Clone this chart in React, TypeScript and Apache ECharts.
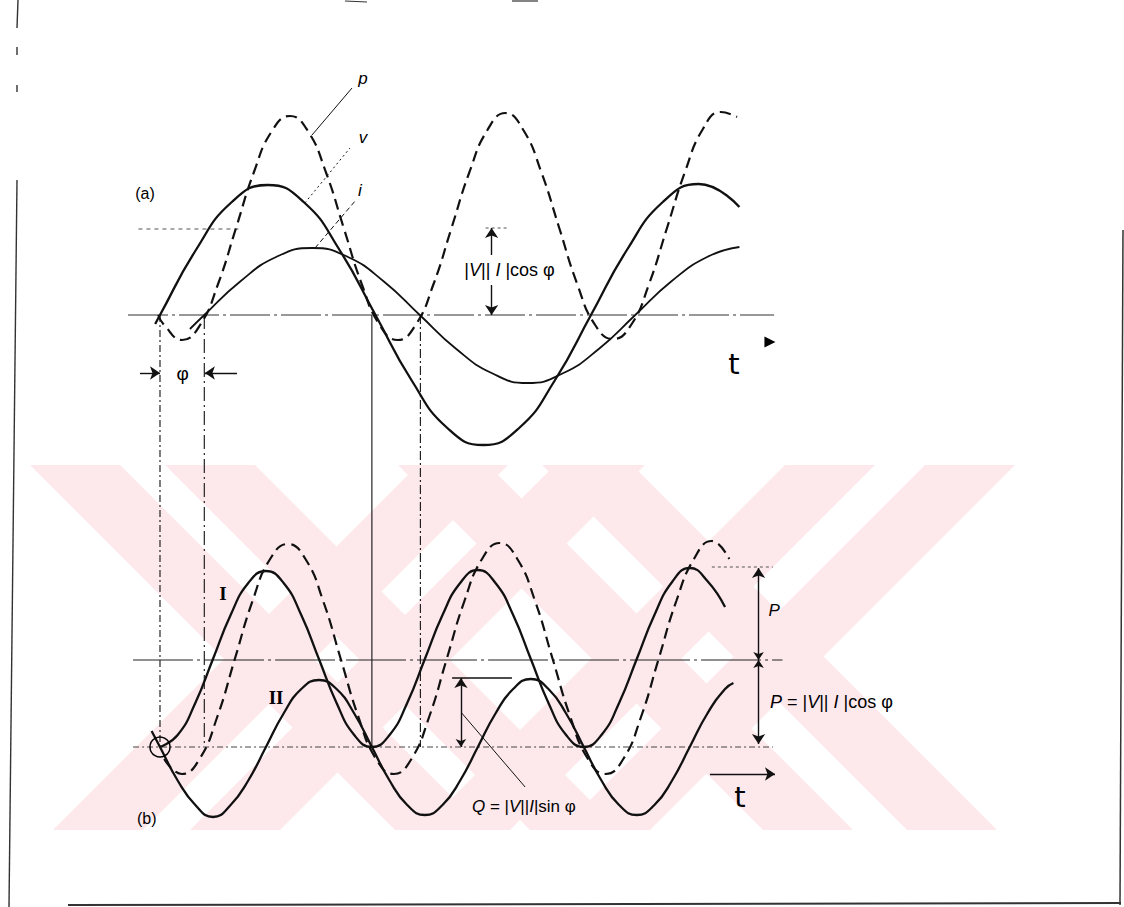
import React, { useEffect, useRef } from "react";
import * as echarts from "echarts";

// x: ωt in degrees; y: amplitude (same scale in both panels)
// ---------- Panel (a) ----------
const V_WAVE = [[-4,-0.09],[0,0],[30,0.65],[60,1.13],[90,1.3],[120,1.13],[150,0.65],[180,0],[210,-0.65],[240,-1.13],[270,-1.3],[300,-1.13],[330,-0.65],[360,0],[390,0.65],[420,1.13],[450,1.31],[484,1.08]];
const I_WAVE = [[25,-0.14],[37,0],[67,0.335],[97,0.58],[127,0.67],[157,0.58],[187,0.335],[217,0],[247,-0.335],[277,-0.58],[307,-0.68],[337,-0.58],[367,-0.335],[397,0],[427,0.335],[457,0.58],[484,0.68]];
const P_WAVE_A = [[-1.5,0],[3.5,-0.1],[18.5,-0.25],[33.5,-0.1],[48.5,0.31],[63.5,0.87],[78.5,1.43],[93.5,1.84],[108.5,1.99],[123.5,1.84],[138.5,1.43],[153.5,0.87],[168.5,0.31],[183.5,-0.1],[198.5,-0.25],[213.5,-0.1],[228.5,0.31],[243.5,0.87],[258.5,1.43],[273.5,1.85],[288.5,2.02],[303.5,1.85],[318.5,1.43],[333.5,0.87],[348.5,0.31],[363.5,-0.1],[378.5,-0.24],[393.5,-0.1],[408.5,0.31],[423.5,0.87],[438.5,1.43],[453.5,1.86],[468.5,2.03],[482,1.98]];
const A_ZERO_LINE = [[-26.7,0],[513,0]];
const A_MEAN_LINE = [[-18,0.86],[67,0.86]];
const A_MEAN_TICK = [[272,0.87],[292,0.87]];
const GUIDE_X = [0, 37, 177, 217.5];
const GUIDE_BOTTOM = -4.32; // base line of panel (b), in panel (a) units
const A_COS_ARROWS = [[[277,0.6],[277,0.87]],[[277,0.3],[277,0]]];
const A_PHI_ARROWS = [[[-16.7,-0.58],[0,-0.58]],[[64.3,-0.58],[37.5,-0.58]]];
const A_LEADER_P = [[127,1.8],[160.4,2.27]];
const A_LEADER_V = [[121,1.12],[158.7,1.67]];
const A_LEADER_I = [[129.5,0.67],[163,1.14]];
const A_T_MARK = [[509.5,-0.27]];
const A_TEXTS: [string, number, number][] = [
  ["(a)", -12.5, 1.22],
  ["p", 169.6, 2.37],
  ["v", 169.6, 1.78],
  ["i", 167, 1.25],
  ["{n||}{i|V}{n|||}{i| I }{n||cos }{n|φ}", 292, 0.45],
  ["φ", 19, -0.58],
  ["t", 479.5, -0.49],
];

// ---------- Panel (b) ----------
const I_COMPONENT = [[0,0],[14.75,0.12],[29.5,0.44],[44.25,0.88],[59,1.32],[73.75,1.64],[88.5,1.76],[103.25,1.64],[118,1.32],[132.75,0.88],[147.5,0.44],[162.25,0.12],[177,0],[191.75,0.12],[206.5,0.44],[221.25,0.88],[236,1.32],[250.75,1.64],[265.5,1.77],[280.25,1.64],[295,1.32],[309.75,0.88],[324.5,0.44],[339.25,0.12],[354,0],[368.75,0.12],[383.5,0.44],[398.25,0.88],[413,1.32],[427.75,1.65],[442.5,1.79],[457.25,1.66],[472,1.4]];
const II_COMPONENT = [[-7,0.16],[0,0],[14.75,-0.335],[29.5,-0.58],[44.25,-0.7],[59,-0.58],[73.75,-0.335],[88.5,0],[103.25,0.335],[118,0.58],[132.75,0.67],[147.5,0.58],[162.25,0.335],[177,0],[191.75,-0.335],[206.5,-0.58],[221.25,-0.68],[236,-0.58],[250.75,-0.335],[265.5,0],[280.25,0.335],[295,0.58],[309.75,0.68],[324.5,0.58],[339.25,0.335],[354,0],[368.75,-0.335],[383.5,-0.58],[398.25,-0.68],[413,-0.58],[427.75,-0.335],[442.5,0],[457.25,0.335],[472,0.58],[479,0.64]];
const P_WAVE_B = [[3.5,-0.12],[18.3,-0.27],[33,-0.12],[47.8,0.3],[62.5,0.88],[77.3,1.46],[92,1.88],[106.8,2.03],[121.5,1.88],[136.3,1.46],[151,0.88],[165.8,0.3],[180.5,-0.12],[195.3,-0.27],[210,-0.12],[224.8,0.3],[239.5,0.88],[254.3,1.46],[269,1.88],[283.8,2.04],[298.5,1.88],[313.3,1.46],[328,0.88],[342.8,0.3],[357.5,-0.12],[372.3,-0.27],[387,-0.12],[401.8,0.3],[416.5,0.88],[431.3,1.46],[446,1.88],[460.8,2.06],[475.5,1.88]];
const B_MID_LINE = [[-22.5,0.87],[520,0.87]];
const B_BASE_LINE = [[-22.5,0],[512,0]];
const B_TOP_LINE = [[461,1.8],[512,1.8]];
const B_Q_TICK = [[244,0.69],[294,0.69]];
const B_Q_ARROW = [[[251.4,0],[251.4,0.69]]];
const B_Q_LEADER = [[252,0.34],[305,-0.4]];
const B_P_ARROWS = [[[500,0.87],[500,1.79]],[[500,0.87],[500,0.03]]];
const B_T_ARROW = [[[459.4,-0.27],[513.7,-0.27]]];
const B_ORIGIN = [[0,0]];
const B_TEXTS: [string, number, number][] = [
  ["I", 52.6, 1.54],
  ["II", 97, 0.5],
  ["(b)", -11, -0.71],
  ["{i|Q}{n| = |}{i|V}{n|||}{i|I}{n||sin }{n|φ}", 260.6, -0.59],
  ["P", 513, 1.37],
  ["{i|P}{n| = |}{i|V}{n|||}{i| I }{n||cos }{n|φ}", 509.5, 0.45],
  ["t", 484.5, -0.5],
];

// background watermark bands (page decoration): [top-left x, direction]
const WATERMARK_BANDS: [number, number][] = [[30, 1], [165, 1], [398, 1], [542, 1], [418, -1], [555, -1], [785, -1], [925, -1]];

const INK = "#000";
const SANS = "'Liberation Sans', Arial, sans-serif";
const SERIF = "'Liberation Serif', 'DejaVu Serif', serif";
const NO_BORDER = { textBorderWidth: 0, textBorderColor: "transparent", textShadowBlur: 0, opacity: 1 };

function lineSeries(data: number[][], y: number, style: any, smooth: number | boolean = false) {
  return {
    type: "line", xAxisIndex: 0, yAxisIndex: y, data, symbol: "none", showSymbol: false,
    smooth, silent: true, z: 3, lineStyle: { color: "#111", width: 1, ...style },
  };
}
function arrowSeries(segs: number[][][], y: number, symbol: string[], width = 1.4) {
  return {
    type: "lines", coordinateSystem: "cartesian2d", xAxisIndex: 0, yAxisIndex: y,
    symbol, symbolSize: [8, 10], silent: true, z: 4,
    lineStyle: { color: "#111", width, opacity: 1, curveness: 0 },
    data: segs.map((c) => ({ coords: c })),
  };
}
function richFor(size: number) {
  return {
    n: { fontFamily: SANS, fontSize: size, color: INK, ...NO_BORDER },
    i: { fontFamily: SANS, fontSize: size, fontStyle: "italic", color: INK, ...NO_BORDER },
  };
}
function textStyle(t: string): any {
  if (t.startsWith("{i|Q")) return { align: "left", rich: richFor(17) };
  if (t.startsWith("{")) return { align: t.startsWith("{i|P") ? "left" : "center", rich: richFor(18) };
  if (t === "(a)" || t === "(b)") return { fontFamily: SANS, fontSize: 16 };
  if (t === "t") return { fontFamily: "'DejaVu Sans', sans-serif", fontSize: 29 };
  if (t === "I" || t === "II") return { fontFamily: SERIF, fontSize: 19, fontWeight: "bold" };
  if (t === "φ") return { fontFamily: SANS, fontSize: 19 };
  return { fontFamily: SANS, fontStyle: "italic", fontSize: 17 };
}
function textSeries(items: [string, number, number][], y: number) {
  return {
    type: "scatter", xAxisIndex: 0, yAxisIndex: y, symbolSize: 0, silent: true, z: 5,
    itemStyle: { color: INK, opacity: 1 },
    data: items.map(([t, x, v]) => ({
      value: [x, v],
      label: { show: true, position: "inside", formatter: t, color: INK, verticalAlign: "middle", ...NO_BORDER, ...textStyle(t) },
    })),
  };
}

export default function App() {
  const ref = useRef<HTMLDivElement>(null);
  useEffect(() => {
    if (!ref.current) return;
    const chart = echarts.init(ref.current, null, { renderer: "svg" });
    const guideStyles = [[7, 3, 2, 3], [14, 4, 2, 4], "solid", [9, 3, 2, 3]];
    const series: any[] = [
      // panel (a)
      lineSeries(A_ZERO_LINE, 0, { width: 1.2, type: [40, 4, 3, 4], color: "#333" }),
      lineSeries(A_MEAN_LINE, 0, { width: 1, type: [4, 4], color: "#555" }),
      lineSeries(A_MEAN_TICK, 0, { width: 1, type: [3, 3], color: "#555" }),
      ...GUIDE_X.map((x, k) => lineSeries([[x, 0], [x, GUIDE_BOTTOM]], 0, { width: 1.1, type: guideStyles[k] })),
      lineSeries(V_WAVE, 0, { width: 2.3 }, 0.5),
      lineSeries(I_WAVE, 0, { width: 1.8 }, 0.5),
      lineSeries(P_WAVE_A, 0, { width: 2.2, type: [11, 6] }, 0.5),
      lineSeries(A_LEADER_P, 0, { width: 1 }),
      lineSeries(A_LEADER_V, 0, { width: 1, type: [2, 3] }),
      lineSeries(A_LEADER_I, 0, { width: 1, type: [5, 3] }),
      arrowSeries(A_COS_ARROWS, 0, ["none", "arrow"]),
      arrowSeries(A_PHI_ARROWS, 0, ["none", "arrow"]),
      {
        type: "scatter", xAxisIndex: 0, yAxisIndex: 0, data: A_T_MARK, symbol: "triangle",
        symbolRotate: -90, symbolSize: [11, 11], itemStyle: { color: INK, opacity: 1 }, silent: true,
      },
      textSeries(A_TEXTS, 0),
      // panel (b)
      lineSeries(B_MID_LINE, 1, { width: 1.2, type: [60, 4, 3, 4], color: "#222" }),
      lineSeries(B_BASE_LINE, 1, { width: 1, type: [6, 3, 2, 3], color: "#444" }),
      lineSeries(B_TOP_LINE, 1, { width: 1, type: [3, 3], color: "#555" }),
      lineSeries(I_COMPONENT, 1, { width: 2.3 }, 0.5),
      lineSeries(II_COMPONENT, 1, { width: 2.3 }, 0.5),
      lineSeries(P_WAVE_B, 1, { width: 2.2, type: [11, 6] }, 0.5),
      lineSeries(B_Q_TICK, 1, { width: 1.4 }),
      lineSeries(B_Q_LEADER, 1, { width: 1 }),
      arrowSeries(B_Q_ARROW, 1, ["arrow", "arrow"]),
      arrowSeries(B_P_ARROWS, 1, ["arrow", "arrow"]),
      arrowSeries(B_T_ARROW, 1, ["none", "arrow"]),
      {
        type: "scatter", xAxisIndex: 0, yAxisIndex: 1, data: B_ORIGIN, symbol: "circle", symbolSize: 20,
        itemStyle: { color: "rgba(0,0,0,0)", borderColor: INK, borderWidth: 1.5, opacity: 1 }, silent: true, z: 4,
      },
      textSeries(B_TEXTS, 1),
    ];
    const frame = (x1: number, y1: number, x2: number, y2: number, w = 1.4) => ({
      type: "line", shape: { x1, y1, x2, y2 }, style: { stroke: "#333", lineWidth: w }, silent: true, z: 10,
    });
    const TOP = 465, BOT = 830, H = BOT - TOP, W = 90;
    const bands = WATERMARK_BANDS.map(([a, d]) => ({
      type: "polygon", silent: true, z: -10,
      shape: { points: [[a, TOP], [a + W, TOP], [a + W + d * H, BOT], [a + d * H, BOT]] },
      style: { fill: "#fde8ec" },
    }));
    chart.setOption({
      animation: false,
      backgroundColor: "#fff",
      grid: { left: 112.11, top: 15, width: 1005.6, height: 880, containLabel: false },
      xAxis: { type: "value", min: -40, max: 800, show: false },
      yAxis: [
        { type: "value", min: -5.8, max: 3.0, show: false },
        { type: "value", min: -1.48, max: 7.32, show: false },
      ],
      series,
      graphic: [
        { type: "group", z: -10, silent: true, children: bands },
        frame(18, 0, 17, 28), frame(17, 47, 17, 55), frame(17, 85, 17, 92), frame(17, 180, 9, 907),
        frame(68, 905, 1121, 903, 2), frame(1123, 230, 1120, 905, 1.5),
        frame(345, 1, 367, 2, 1.2), frame(512, 1, 538, 1, 1.2),
      ],
    });
    return () => chart.dispose();
  }, []);
  return (
    <div
      ref={ref}
      style={{ position: "absolute", left: 0, top: 0, width: 1124, height: 907, background: "#fff" }}
    />
  );
}
